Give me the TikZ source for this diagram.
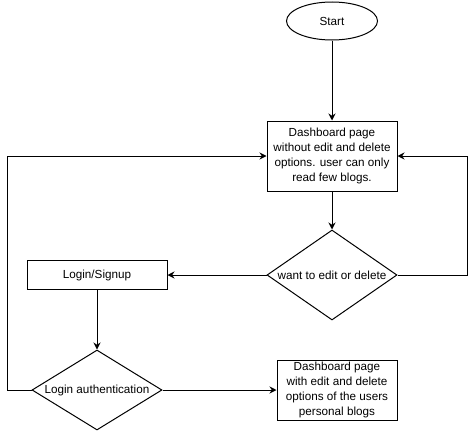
\documentclass[tikz,border=0pt]{standalone}
\usepackage{fontspec}
\setmainfont{Liberation Sans}
\usetikzlibrary{shapes.geometric,arrows.meta}

\tikzset{
  box/.style={draw,line width=1pt,align=center,inner sep=0pt},
  decision/.style={draw,diamond,line width=1pt,inner sep=0pt},
  arr/.style={line width=1pt,-{Stealth[length=7pt,width=7pt]}}
}

\begin{document}
\begin{tikzpicture}[x=1pt,y=-1pt,font=\fontsize{11.7}{15}\selectfont]
			\useasboundingbox (0,0) rectangle (476,431);
			\node[draw,ellipse,line width=1pt,minimum width=91pt,minimum height=38pt,inner sep=0pt] (start) at (332,21) {Start};
			\node[box,minimum width=130pt,minimum height=70pt] (dash) at (332,156) {Dashboard page\\without edit and delete\\options. user can only\\read few blogs.};
			\node[decision,minimum width=130pt,minimum height=90pt,label=center:{want to edit or delete}] (want) at (332,275) {};
			\node[box,minimum width=140pt,minimum height=29pt] (login) at (97,275) {Login/Signup};
			\node[decision,minimum width=130pt,minimum height=80pt,label=center:{Login authentication}] (auth) at (97,390) {};
			\node[box,minimum width=120pt,minimum height=60pt] (dashb) at (337,390) {Dashboard page\\with edit and delete\\options of the users\\personal blogs};
			
			\draw[arr] (start) -- (dash);
			\draw[arr] (dash) -- (want);
			\draw[arr] (want) -- (login);
			\draw[arr] (want.east) -- ++(70,0) |- (dash.east);
			\draw[arr] (login) -- (auth);
			\draw[arr] (auth.west) -- ++(-24,0) |- (dash.west);
			\draw[arr] (auth) -- (dashb);
		\end{tikzpicture}
\end{document}
